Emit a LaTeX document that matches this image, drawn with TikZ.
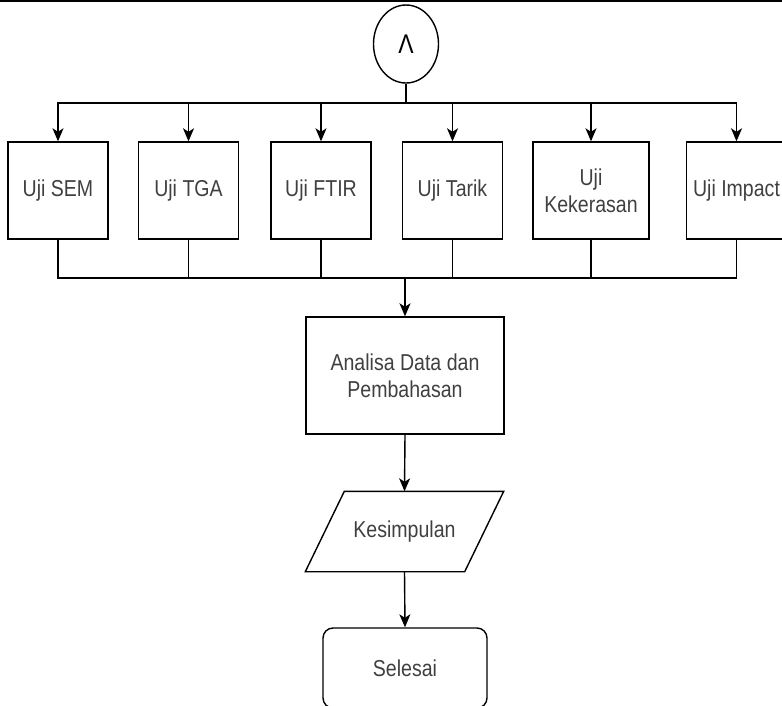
\documentclass[tikz,border=0pt]{standalone}
\usepackage{fontspec}
\setmainfont{Liberation Sans}[FakeStretch=0.85]
\usepackage{tikz}
\usetikzlibrary{shapes, arrows.meta, positioning, calc}
\definecolor{labelgray}{RGB}{64, 64, 64}

\begin{document}
\begin{tikzpicture}[x=1pt, y=-1pt, line width=1.4pt,
  font=\fontsize{23}{27}\selectfont,
  ujibox/.style={draw, minimum width=100pt, minimum height=97pt, inner sep=2pt, align=center, text=labelgray},
  flow/.style={-{Stealth[length=13pt, width=11pt, inset=3.5pt]}}]
  \useasboundingbox (0,0) rectangle (782,705);
  % top edge
  \draw[line width=2pt] (0,1) -- (782,1);

  % connector
  \node[draw, ellipse, minimum width=65pt, minimum height=78pt, inner sep=0pt, font=\fontsize{27}{30}\selectfont] (dan) at (406,44) {Λ};

  % Tests
  \node[ujibox] (sem) at (58,190.5) {Uji SEM};
  \node[ujibox] (tga) at (188.5,190.5) {Uji TGA};
  \node[ujibox] (ftir) at (321,190.5) {Uji FTIR};
  \node[ujibox] (tarik) at (452.5,190.5) {Uji Tarik};
  \node[ujibox, minimum width=116pt] (keras) at (591,190.5) {Uji\\Kekerasan};
  \node[ujibox] (impact) at (736.5,190.5) {Uji Impact};

  \coordinate (split) at (406,103);
  \coordinate (merge) at (405,278);
  \draw (dan.south) -- (split);
  \draw[line cap=rect] (sem.north |- split) -- (impact.north |- split);
  \foreach \n in {sem, tga, ftir, tarik, keras, impact}
    \draw[flow] (\n.north |- split) -- (\n.north);
  \foreach \n in {sem, tga, ftir, tarik, keras, impact}
    \draw (\n.south) -- (\n.south |- merge);
  \draw[line cap=rect] (sem.south |- merge) -- (impact.south |- merge);

  % Analysis and end
  \node[draw, minimum width=198pt, minimum height=117pt, align=center, text=labelgray] (analisa) at (405,375.5) {Analisa Data dan\\Pembahasan};
  \node[minimum width=197pt, minimum height=79pt, text=labelgray] (kes) at (404.5,531.5) {Kesimpulan};
  \draw ($(kes.south west)$) -- ($(kes.north west)+(39,0)$) -- (kes.north east) -- ($(kes.south east)+(-39,0)$) -- cycle;
  \node[draw, rounded corners=10pt, minimum width=164pt, minimum height=80pt, text=labelgray] (selesai) at (405,668) {Selesai};

  \draw[flow] (merge) -- (analisa.north);
  \draw[flow] (analisa.south) -- (kes.north);
  \draw[flow] (kes.south) -- (selesai.north);
\end{tikzpicture}
\end{document}
